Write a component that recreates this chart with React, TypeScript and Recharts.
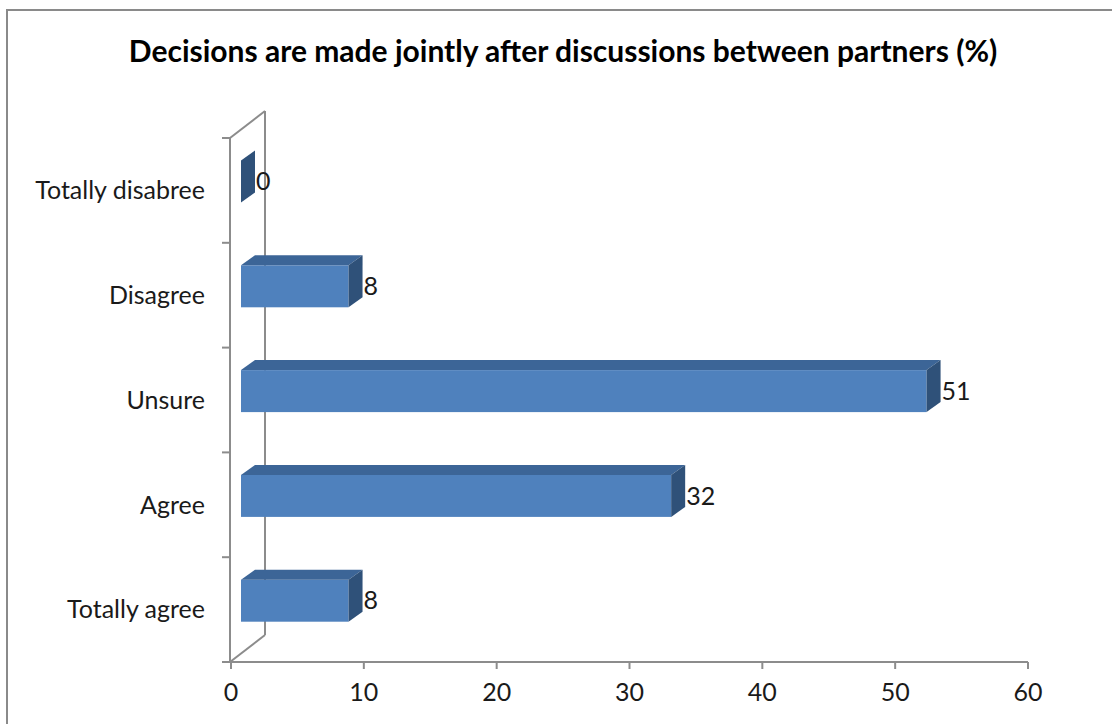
import React from 'react';
import { BarChart, Bar, XAxis, YAxis, LabelList } from 'recharts';

// categories top to bottom, as in the picture
const categories = ['Totally disabree', 'Disagree', 'Unsure', 'Agree', 'Totally agree'];
const percents = [0, 8, 51, 32, 8];
const xTicks = [0, 10, 20, 30, 40, 50, 60];

const data = categories.map((name, i) => ({ name, value: percents[i] }));

const W = 1112;
const H = 724;
const PLOT_LEFT = 231;
const PLOT_RIGHT = 1028;
const PLOT_TOP = 138;
const PLOT_BOTTOM = 662;

// 3d look
const DEPTH_X = 35; // back wall offset
const DEPTH_Y = -27;
const FACE_DX = 10; // bars sit a bit behind the front
const FACE_DY = -8.5;
const TOP_DX = 14;
const TOP_DY = -10;
const PERSP = 1.012;

const FRONT = '#4F81BD';
const TOP = '#3C6597';
const SIDE = '#2F5179';
const FRAME = '#8C8C8C';
const FONT = 'Lato, "Open Sans", sans-serif';
const TXT = 25;

const Bar3D = (props: any) => {
  const { x, y, width, height } = props;
  const fx = x + FACE_DX;
  const fy = y + FACE_DY;
  const fw = Math.max(0, width * PERSP);
  const r = fx + fw;
  return (
    <g>
      {fw > 0 && <rect x={fx} y={fy} width={fw} height={height} fill={FRONT} />}
      {fw > 0 && (
        <polygon
          points={`${fx},${fy} ${fx + TOP_DX},${fy + TOP_DY} ${r + TOP_DX},${fy + TOP_DY} ${r},${fy}`}
          fill={TOP}
        />
      )}
      <polygon
        points={`${r},${fy} ${r + TOP_DX},${fy + TOP_DY} ${r + TOP_DX},${fy + TOP_DY + height} ${r},${fy + height}`}
        fill={SIDE}
      />
    </g>
  );
};

const ValueLabel = (props: any) => {
  const { x, y, width, height, value } = props;
  return (
    <text
      x={x + width * PERSP + FACE_DX + TOP_DX + 1}
      y={y + height / 2 + FACE_DY}
      dy="0.35em"
      fontSize={TXT}
      fontFamily={FONT}
      fill="#1a1a1a"
    >
      {value}
    </text>
  );
};

// walls / frame drawn behind the bars
const Frame = () => {
  const band = (PLOT_BOTTOM - PLOT_TOP) / categories.length;
  const tickYs = Array.from({ length: categories.length + 1 }, (_, i) => PLOT_TOP + i * band);
  const bx = PLOT_LEFT - 1 + DEPTH_X;
  return (
    <svg width={W} height={H} style={{ position: 'absolute', left: 0, top: 0 }}>
      <g stroke={FRAME} strokeWidth={2} fill="none">
        <line x1={PLOT_LEFT - 1} y1={PLOT_TOP} x2={PLOT_LEFT - 1} y2={PLOT_BOTTOM} />
        {tickYs.map((ty) => (
          <line key={ty} x1={PLOT_LEFT - 9} y1={ty} x2={PLOT_LEFT - 1} y2={ty} />
        ))}
        <line x1={PLOT_LEFT - 1} y1={PLOT_TOP} x2={bx} y2={PLOT_TOP + DEPTH_Y} />
        <line x1={bx} y1={PLOT_TOP + DEPTH_Y} x2={bx} y2={PLOT_BOTTOM + DEPTH_Y} />
        <line x1={PLOT_LEFT - 1} y1={PLOT_BOTTOM} x2={bx} y2={PLOT_BOTTOM + DEPTH_Y} />
      </g>
    </svg>
  );
};

export default function App() {
  return (
    <div style={{ position: 'absolute', left: 0, top: 0, width: W, height: H, overflow: 'hidden', background: '#fff' }}>
      <div
        style={{
          position: 'absolute',
          left: 6,
          top: 9,
          width: W,
          height: H,
          borderTop: '2px solid #8a8a8a',
          borderLeft: '2px solid #8a8a8a',
        }}
      />
      <div
        style={{
          position: 'absolute',
          left: 0,
          top: 30,
          width: 1126,
          textAlign: 'center',
          fontFamily: FONT,
          fontWeight: 700,
          fontSize: 30,
          lineHeight: '40px',
          color: '#000',
        }}
      >
        Decisions are made jointly after discussions between partners (%)
      </div>
      <Frame />
      <div style={{ position: 'absolute', left: 0, top: 0 }}>
        <BarChart
          width={W}
          height={H}
          data={data}
          layout="vertical"
          margin={{ top: PLOT_TOP, right: W - PLOT_RIGHT, bottom: 0, left: 0 }}
        >
          <XAxis
            type="number"
            domain={[0, 60]}
            ticks={xTicks}
            height={H - PLOT_BOTTOM}
            axisLine={{ stroke: FRAME, strokeWidth: 2 }}
            tickLine={{ stroke: FRAME, strokeWidth: 2 }}
            tickSize={7}
            tickMargin={14}
            tick={{ fontSize: TXT, fontFamily: FONT, fill: '#1a1a1a' }}
          />
          <YAxis
            type="category"
            dataKey="name"
            width={PLOT_LEFT}
            axisLine={false}
            tickLine={false}
            tickSize={0}
            tickMargin={26}
            tick={{ fontSize: TXT, fontFamily: FONT, fill: '#1a1a1a' }}
          />
          <Bar dataKey="value" barSize={42} shape={Bar3D} isAnimationActive={false}>
            <LabelList dataKey="value" content={ValueLabel} />
          </Bar>
        </BarChart>
      </div>
    </div>
  );
}
